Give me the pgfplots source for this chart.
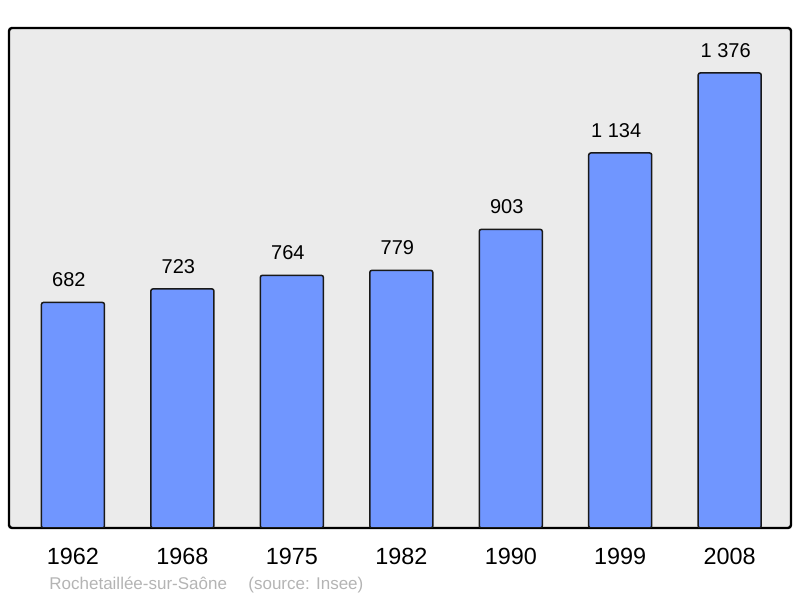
\documentclass[border=0pt]{standalone}
\usepackage{fontspec}
\setmainfont{Liberation Sans}
\usepackage{pgfplots}
\pgfplotsset{compat=1.18}
\definecolor{barfill}{HTML}{7096FF}
\definecolor{bgray}{HTML}{EBEBEB}
\definecolor{srcgray}{HTML}{B4B4B4}
\begin{document}
\begin{tikzpicture}
\begin{axis}[
  at={(4.5pt,35pt)}, anchor=south west,
  scale only axis, width=391pt, height=250pt,
  ybar, bar width=31.5pt,
  xmin=-0.584, xmax=6.56, ymin=0, ymax=1512,
  axis background/.style={fill=bgray},
  axis line style={line width=1.2pt, rounded corners=1.5pt},
  xtick={0,...,6},
  xticklabels={1962,1968,1975,1982,1990,1999,2008},
  xticklabel style={font=\fontsize{11.7}{13}\selectfont, anchor=base, yshift=-18.5pt},
  ytick=\empty,
  major tick length=0pt,
  /pgf/number format/.cd, 1000 sep={\ }, assume math mode=true,
  /pgfplots/.cd,
  nodes near coords,
  nodes near coords style={font=\fontsize{10}{11}\selectfont, anchor=base, yshift=7.8pt, xshift=-2pt, inner sep=0pt},
]
\addplot[fill=barfill, draw=black!90, line width=0.75pt, rounded corners=1pt]
  coordinates {(0,682) (1,723) (2,764) (3,779) (4,903) (5,1134) (6,1376)};
\end{axis}
\node[anchor=base west, inner sep=0pt, text=srcgray, font=\fontsize{8.5}{10}\selectfont] at (24.5pt,4pt) {Rochetaillée-sur-Saône};
\node[anchor=base west, inner sep=0pt, text=srcgray, font=\fontsize{8.5}{10}\selectfont] at (124pt,4pt) {(source: Insee)};
\pgfresetboundingbox
\path (0,0) rectangle (400pt,299pt);
\end{tikzpicture}
\end{document}
